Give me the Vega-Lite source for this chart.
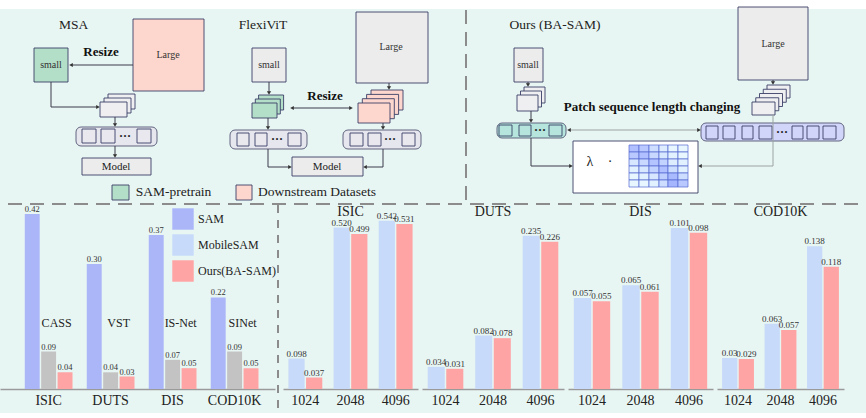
{
"$schema": "https://vega.github.io/schema/vega-lite/v6.json",
"background": "#e8f6f3",
"padding": 0,
"autosize": {"type": "pad"},
"spacing": 7,
"bounds": "flush",
"resolve": {"scale": {"color": "independent", "x": "independent", "y": "independent", "xOffset": "independent"}, "legend": {"color": "independent"}},
"config": {
  "view": {"stroke": null},
  "font": "Liberation Serif",
  "axisX": {"title": null, "ticks": false, "labelFont": "Liberation Serif", "labelFontSize": 14, "labelColor": "#222", "domainColor": "#9a9a9a", "domainWidth": 1.5, "labelPadding": 4, "labelAngle": 0},
  "title": {"font": "Liberation Serif", "fontSize": 14, "fontWeight": "normal", "color": "#222", "anchor": "middle", "offset": -7, "baseline": "top"}
},
"datasets": {
  "left": [
    {"dataset": "ISIC", "model": "SAM", "value": 0.42, "label": "0.42"},
    {"dataset": "ISIC", "model": "Specialist", "method": "CASS", "value": 0.09, "label": "0.09"},
    {"dataset": "ISIC", "model": "Ours(BA-SAM)", "value": 0.04, "label": "0.04"},
    {"dataset": "DUTS", "model": "SAM", "value": 0.30, "label": "0.30"},
    {"dataset": "DUTS", "model": "Specialist", "method": "VST", "value": 0.04, "label": "0.04"},
    {"dataset": "DUTS", "model": "Ours(BA-SAM)", "value": 0.03, "label": "0.03"},
    {"dataset": "DIS", "model": "SAM", "value": 0.37, "label": "0.37"},
    {"dataset": "DIS", "model": "Specialist", "method": "IS-Net", "value": 0.07, "label": "0.07"},
    {"dataset": "DIS", "model": "Ours(BA-SAM)", "value": 0.05, "label": "0.05"},
    {"dataset": "COD10K", "model": "SAM", "value": 0.22, "label": "0.22"},
    {"dataset": "COD10K", "model": "Specialist", "method": "SINet", "value": 0.09, "label": "0.09"},
    {"dataset": "COD10K", "model": "Ours(BA-SAM)", "value": 0.05, "label": "0.05"}
  ],
  "right": [
    {"dataset": "ISIC", "length": "1024", "model": "MobileSAM", "value": 0.098, "label": "0.098"},
    {"dataset": "ISIC", "length": "1024", "model": "Ours(BA-SAM)", "value": 0.037, "label": "0.037"},
    {"dataset": "ISIC", "length": "2048", "model": "MobileSAM", "value": 0.520, "label": "0.520"},
    {"dataset": "ISIC", "length": "2048", "model": "Ours(BA-SAM)", "value": 0.499, "label": "0.499"},
    {"dataset": "ISIC", "length": "4096", "model": "MobileSAM", "value": 0.542, "label": "0.542"},
    {"dataset": "ISIC", "length": "4096", "model": "Ours(BA-SAM)", "value": 0.531, "label": "0.531"},
    {"dataset": "DUTS", "length": "1024", "model": "MobileSAM", "value": 0.034, "label": "0.034"},
    {"dataset": "DUTS", "length": "1024", "model": "Ours(BA-SAM)", "value": 0.031, "label": "0.031"},
    {"dataset": "DUTS", "length": "2048", "model": "MobileSAM", "value": 0.082, "label": "0.082"},
    {"dataset": "DUTS", "length": "2048", "model": "Ours(BA-SAM)", "value": 0.078, "label": "0.078"},
    {"dataset": "DUTS", "length": "4096", "model": "MobileSAM", "value": 0.235, "label": "0.235"},
    {"dataset": "DUTS", "length": "4096", "model": "Ours(BA-SAM)", "value": 0.226, "label": "0.226"},
    {"dataset": "DIS", "length": "1024", "model": "MobileSAM", "value": 0.057, "label": "0.057"},
    {"dataset": "DIS", "length": "1024", "model": "Ours(BA-SAM)", "value": 0.055, "label": "0.055"},
    {"dataset": "DIS", "length": "2048", "model": "MobileSAM", "value": 0.065, "label": "0.065"},
    {"dataset": "DIS", "length": "2048", "model": "Ours(BA-SAM)", "value": 0.061, "label": "0.061"},
    {"dataset": "DIS", "length": "4096", "model": "MobileSAM", "value": 0.101, "label": "0.101"},
    {"dataset": "DIS", "length": "4096", "model": "Ours(BA-SAM)", "value": 0.098, "label": "0.098"},
    {"dataset": "COD10K", "length": "1024", "model": "MobileSAM", "value": 0.03, "label": "0.03"},
    {"dataset": "COD10K", "length": "1024", "model": "Ours(BA-SAM)", "value": 0.029, "label": "0.029"},
    {"dataset": "COD10K", "length": "2048", "model": "MobileSAM", "value": 0.063, "label": "0.063"},
    {"dataset": "COD10K", "length": "2048", "model": "Ours(BA-SAM)", "value": 0.057, "label": "0.057"},
    {"dataset": "COD10K", "length": "4096", "model": "MobileSAM", "value": 0.138, "label": "0.138"},
    {"dataset": "COD10K", "length": "4096", "model": "Ours(BA-SAM)", "value": 0.118, "label": "0.118"}
  ],
  "tokenbars": [
    {"x": 76, "x2": 157, "y": 127, "y2": 146, "role": "bar"},
    {"x": 230, "x2": 307, "y": 130, "y2": 149, "role": "bar"},
    {"x": 343, "x2": 421, "y": 130, "y2": 149, "role": "bar"},
    {"x": 497, "x2": 566, "y": 123, "y2": 138, "role": "teal"},
    {"x": 701, "x2": 844, "y": 123, "y2": 141, "role": "purple"}
  ],
  "boxes": [
    {"x": 34, "x2": 68, "y": 48, "y2": 82, "role": "green"},
    {"x": 133, "x2": 204, "y": 19, "y2": 91, "role": "pink"},
    {"x": 108, "x2": 135, "y": 94, "y2": 109, "role": "patch"},
    {"x": 104, "x2": 131, "y": 98, "y2": 113, "role": "patch"},
    {"x": 100, "x2": 127, "y": 102, "y2": 117, "role": "patch"},
    {"x": 82, "x2": 96, "y": 129, "y2": 143, "role": "sq"},
    {"x": 101, "x2": 115, "y": 129, "y2": 143, "role": "sq"},
    {"x": 137, "x2": 151, "y": 129, "y2": 143, "role": "sq"},
    {"x": 82, "x2": 151, "y": 158, "y2": 175, "role": "gray"},
    {"x": 252, "x2": 286, "y": 48, "y2": 82, "role": "gray"},
    {"x": 258.6, "x2": 283.6, "y": 95, "y2": 110, "role": "green"},
    {"x": 255.3, "x2": 280.3, "y": 99, "y2": 114, "role": "green"},
    {"x": 252, "x2": 277, "y": 103, "y2": 118, "role": "green"},
    {"x": 356, "x2": 428, "y": 12, "y2": 83, "role": "gray"},
    {"x": 371, "x2": 403, "y": 90, "y2": 110, "role": "pink"},
    {"x": 366.6, "x2": 398.6, "y": 94.4, "y2": 114.4, "role": "pink"},
    {"x": 362.3, "x2": 394.3, "y": 98.7, "y2": 118.7, "role": "pink"},
    {"x": 358, "x2": 390, "y": 103, "y2": 123, "role": "pink"},
    {"x": 237, "x2": 249, "y": 133, "y2": 146, "role": "sq"},
    {"x": 255, "x2": 267, "y": 133, "y2": 146, "role": "sq"},
    {"x": 288, "x2": 301, "y": 133, "y2": 146, "role": "sq"},
    {"x": 350, "x2": 363, "y": 133, "y2": 146, "role": "sq"},
    {"x": 368, "x2": 381, "y": 133, "y2": 146, "role": "sq"},
    {"x": 402, "x2": 415, "y": 133, "y2": 146, "role": "sq"},
    {"x": 292, "x2": 363, "y": 157, "y2": 176, "role": "gray"},
    {"x": 112, "x2": 129, "y": 185, "y2": 200, "role": "green"},
    {"x": 236, "x2": 252, "y": 185, "y2": 200, "role": "pink"},
    {"x": 514, "x2": 543, "y": 48, "y2": 82, "role": "gray"},
    {"x": 524, "x2": 545, "y": 87, "y2": 103, "role": "patch"},
    {"x": 520.5, "x2": 541.5, "y": 91, "y2": 107, "role": "patch"},
    {"x": 517, "x2": 538, "y": 95, "y2": 111, "role": "patch"},
    {"x": 738, "x2": 808, "y": 7, "y2": 80, "role": "gray"},
    {"x": 767, "x2": 790, "y": 85, "y2": 98, "role": "patch"},
    {"x": 763.25, "x2": 786.25, "y": 89.25, "y2": 102.25, "role": "patch"},
    {"x": 759.5, "x2": 782.5, "y": 93.5, "y2": 106.5, "role": "patch"},
    {"x": 755.75, "x2": 778.75, "y": 97.75, "y2": 110.75, "role": "patch"},
    {"x": 752, "x2": 775, "y": 102, "y2": 115, "role": "patch"},
    {"x": 499, "x2": 512, "y": 125, "y2": 136, "role": "teal"},
    {"x": 519, "x2": 531, "y": 125, "y2": 136, "role": "teal"},
    {"x": 549, "x2": 562, "y": 125, "y2": 136, "role": "teal"},
    {"x": 706, "x2": 718, "y": 126, "y2": 139, "role": "purple"},
    {"x": 723, "x2": 735, "y": 126, "y2": 139, "role": "purple"},
    {"x": 742, "x2": 753, "y": 126, "y2": 139, "role": "purple"},
    {"x": 759, "x2": 772, "y": 126, "y2": 139, "role": "purple"},
    {"x": 792, "x2": 803, "y": 126, "y2": 139, "role": "purple"},
    {"x": 807, "x2": 819, "y": 126, "y2": 139, "role": "purple"},
    {"x": 823, "x2": 836, "y": 126, "y2": 139, "role": "purple"},
    {"x": 573, "x2": 698, "y": 141, "y2": 193, "role": "white"}
  ],
  "cells": [
    {"x": 629, "x2": 639, "y": 145, "y2": 152, "v": 0.6},
    {"x": 639, "x2": 649, "y": 145, "y2": 152, "v": 0.5},
    {"x": 649, "x2": 659, "y": 145, "y2": 152, "v": 0.3},
    {"x": 659, "x2": 668, "y": 145, "y2": 152, "v": 0.15},
    {"x": 668, "x2": 678, "y": 145, "y2": 152, "v": 0.05},
    {"x": 678, "x2": 688, "y": 145, "y2": 152, "v": 0.05},
    {"x": 629, "x2": 639, "y": 152, "y2": 159, "v": 0.5},
    {"x": 639, "x2": 649, "y": 152, "y2": 159, "v": 0.6},
    {"x": 649, "x2": 659, "y": 152, "y2": 159, "v": 0.35},
    {"x": 659, "x2": 668, "y": 152, "y2": 159, "v": 0.2},
    {"x": 668, "x2": 678, "y": 152, "y2": 159, "v": 0.1},
    {"x": 678, "x2": 688, "y": 152, "y2": 159, "v": 0.05},
    {"x": 629, "x2": 639, "y": 159, "y2": 166, "v": 0.2},
    {"x": 639, "x2": 649, "y": 159, "y2": 166, "v": 0.35},
    {"x": 649, "x2": 659, "y": 159, "y2": 166, "v": 0.55},
    {"x": 659, "x2": 668, "y": 159, "y2": 166, "v": 0.4},
    {"x": 668, "x2": 678, "y": 159, "y2": 166, "v": 0.15},
    {"x": 678, "x2": 688, "y": 159, "y2": 166, "v": 0.1},
    {"x": 629, "x2": 639, "y": 166, "y2": 173, "v": 0.1},
    {"x": 639, "x2": 649, "y": 166, "y2": 173, "v": 0.2},
    {"x": 649, "x2": 659, "y": 166, "y2": 173, "v": 0.4},
    {"x": 659, "x2": 668, "y": 166, "y2": 173, "v": 0.6},
    {"x": 668, "x2": 678, "y": 166, "y2": 173, "v": 0.3},
    {"x": 678, "x2": 688, "y": 166, "y2": 173, "v": 0.1},
    {"x": 629, "x2": 639, "y": 173, "y2": 180, "v": 0.05},
    {"x": 639, "x2": 649, "y": 173, "y2": 180, "v": 0.1},
    {"x": 649, "x2": 659, "y": 173, "y2": 180, "v": 0.2},
    {"x": 659, "x2": 668, "y": 173, "y2": 180, "v": 0.45},
    {"x": 668, "x2": 678, "y": 173, "y2": 180, "v": 0.65},
    {"x": 678, "x2": 688, "y": 173, "y2": 180, "v": 0.3},
    {"x": 629, "x2": 639, "y": 180, "y2": 187, "v": 0.05},
    {"x": 639, "x2": 649, "y": 180, "y2": 187, "v": 0.05},
    {"x": 649, "x2": 659, "y": 180, "y2": 187, "v": 0.1},
    {"x": 659, "x2": 668, "y": 180, "y2": 187, "v": 0.3},
    {"x": 668, "x2": 678, "y": 180, "y2": 187, "v": 0.7},
    {"x": 678, "x2": 688, "y": 180, "y2": 187, "v": 0.5}
  ],
  "lines": [
    {"x": 133, "y": 65, "x2": 71, "y2": 65, "tone": "dark"},
    {"x": 51, "y": 82, "x2": 51, "y2": 107, "tone": "dark"},
    {"x": 51, "y": 107, "x2": 98, "y2": 107, "tone": "dark"},
    {"x": 115, "y": 117, "x2": 115, "y2": 125, "tone": "dark"},
    {"x": 115, "y": 146, "x2": 115, "y2": 156, "tone": "dark"},
    {"x": 269, "y": 82, "x2": 269, "y2": 93, "tone": "dark"},
    {"x": 389, "y": 83, "x2": 389, "y2": 88, "tone": "dark"},
    {"x": 292, "y": 108, "x2": 351, "y2": 108, "tone": "dark"},
    {"x": 268, "y": 118, "x2": 268, "y2": 128, "tone": "dark"},
    {"x": 383, "y": 123, "x2": 383, "y2": 128, "tone": "dark"},
    {"x": 268, "y": 149, "x2": 268, "y2": 167, "tone": "dark"},
    {"x": 268, "y": 167, "x2": 290, "y2": 167, "tone": "dark"},
    {"x": 383, "y": 149, "x2": 383, "y2": 167, "tone": "dark"},
    {"x": 383, "y": 167, "x2": 365, "y2": 167, "tone": "dark"},
    {"x": 528, "y": 82, "x2": 528, "y2": 85, "tone": "dark"},
    {"x": 531, "y": 111, "x2": 531, "y2": 121, "tone": "dark"},
    {"x": 773, "y": 80, "x2": 773, "y2": 83, "tone": "dark"},
    {"x": 569, "y": 130, "x2": 699, "y2": 130, "tone": "gray"},
    {"x": 531, "y": 138, "x2": 531, "y2": 166, "tone": "dark"},
    {"x": 531, "y": 166, "x2": 571, "y2": 166, "tone": "dark"},
    {"x": 773, "y": 115, "x2": 773, "y2": 166, "tone": "gray"},
    {"x": 773, "y": 166, "x2": 700, "y2": 166, "tone": "gray"}
  ],
  "heads": [
    {"x": 71, "y": 65, "dir": "left"},
    {"x": 98, "y": 107, "dir": "right"},
    {"x": 115, "y": 125, "dir": "down"},
    {"x": 115, "y": 156, "dir": "down"},
    {"x": 269, "y": 93, "dir": "down"},
    {"x": 389, "y": 88, "dir": "down"},
    {"x": 292, "y": 108, "dir": "left"},
    {"x": 351, "y": 108, "dir": "right"},
    {"x": 268, "y": 128, "dir": "down"},
    {"x": 383, "y": 128, "dir": "down"},
    {"x": 290, "y": 167, "dir": "right"},
    {"x": 365, "y": 167, "dir": "left"},
    {"x": 528, "y": 85, "dir": "down"},
    {"x": 531, "y": 121, "dir": "down"},
    {"x": 773, "y": 83, "dir": "down"},
    {"x": 569, "y": 130, "dir": "left"},
    {"x": 699, "y": 130, "dir": "right"},
    {"x": 571, "y": 166, "dir": "right"},
    {"x": 700, "y": 166, "dir": "left"}
  ],
  "dashes": [
    {"x": 8, "y": 204, "x2": 858, "y2": 204},
    {"x": 466, "y": 10, "x2": 466, "y2": 200}
  ],
  "texts": [
    {"x": 73.5, "y": 25, "text": "MSA", "kind": "head"},
    {"x": 263, "y": 25, "text": "FlexiViT", "kind": "head"},
    {"x": 555, "y": 25, "text": "Ours (BA-SAM)", "kind": "head"},
    {"x": 173.5, "y": 192, "text": "SAM-pretrain", "kind": "head"},
    {"x": 317, "y": 192, "text": "Downstream Datasets", "kind": "head"},
    {"x": 51, "y": 65, "text": "small", "kind": "small"},
    {"x": 269, "y": 65, "text": "small", "kind": "small"},
    {"x": 528, "y": 65, "text": "small", "kind": "small"},
    {"x": 168, "y": 55, "text": "Large", "kind": "small"},
    {"x": 391, "y": 47, "text": "Large", "kind": "small"},
    {"x": 773, "y": 44, "text": "Large", "kind": "small"},
    {"x": 101, "y": 52, "text": "Resize", "kind": "bold"},
    {"x": 325, "y": 96, "text": "Resize", "kind": "bold"},
    {"x": 652, "y": 107, "text": "Patch sequence length changing", "kind": "bold"},
    {"x": 116, "y": 167, "text": "Model", "kind": "model"},
    {"x": 327, "y": 167, "text": "Model", "kind": "model"},
    {"x": 125, "y": 136, "text": "···", "kind": "dots"},
    {"x": 277, "y": 139, "text": "···", "kind": "dots"},
    {"x": 390, "y": 139, "text": "···", "kind": "dots"},
    {"x": 540, "y": 130, "text": "···", "kind": "dots"},
    {"x": 782, "y": 132, "text": "···", "kind": "dots"},
    {"x": 590, "y": 162, "text": "λ", "kind": "lambda"},
    {"x": 610, "y": 162, "text": "·", "kind": "lambda"}
  ]
},
"vconcat": [
  {
    "width": 866,
    "height": 205,
    "layer": [
      {
        "data": {"values": [{"x": 0, "x2": 866, "y": 0, "y2": 9}]},
        "mark": {"type": "rect", "fill": "#ffffff"},
        "encoding": {
          "x": {"field": "x", "type": "quantitative", "scale": {"domain": [0, 866], "nice": false, "zero": false}, "axis": null},
          "x2": {"field": "x2"},
          "y": {"field": "y", "type": "quantitative", "scale": {"domain": [0, 205], "nice": false, "zero": false, "reverse": true}, "axis": null},
          "y2": {"field": "y2"}
        }
      },
      {
        "data": {"name": "tokenbars"},
        "mark": {"type": "rect", "cornerRadius": 5, "stroke": "#60657f", "strokeWidth": 1},
        "encoding": {
          "x": {"field": "x", "type": "quantitative", "scale": {"domain": [0, 866], "nice": false, "zero": false}, "axis": null},
          "x2": {"field": "x2"},
          "y": {"field": "y", "type": "quantitative", "scale": {"domain": [0, 205], "nice": false, "zero": false, "reverse": true}, "axis": null},
          "y2": {"field": "y2"},
          "fill": {"field": "role", "type": "nominal", "scale": {"domain": ["green", "pink", "gray", "patch", "sq", "white", "teal", "purple", "bar"], "range": ["#b3dfc8", "#fdd7cd", "#ececec", "#efeff1", "#e8e8ee", "#ffffff", "#b5e5dc", "#d2d5fa", "#e6e6ee"]}, "legend": null}
        }
      },
      {
        "data": {"name": "boxes"},
        "mark": {"type": "rect", "stroke": "#3a3e66", "strokeWidth": 0.9},
        "encoding": {
          "x": {"field": "x", "type": "quantitative", "scale": {"domain": [0, 866], "nice": false, "zero": false}, "axis": null},
          "x2": {"field": "x2"},
          "y": {"field": "y", "type": "quantitative", "scale": {"domain": [0, 205], "nice": false, "zero": false, "reverse": true}, "axis": null},
          "y2": {"field": "y2"},
          "fill": {"field": "role", "type": "nominal", "scale": {"domain": ["green", "pink", "gray", "patch", "sq", "white", "teal", "purple", "bar"], "range": ["#b3dfc8", "#fdd7cd", "#ececec", "#efeff1", "#e8e8ee", "#ffffff", "#b5e5dc", "#d2d5fa", "#e6e6ee"]}, "legend": null}
        }
      },
      {
        "data": {"name": "cells"},
        "mark": {"type": "rect", "stroke": "#5568d0", "strokeWidth": 0.7},
        "encoding": {
          "x": {"field": "x", "type": "quantitative", "scale": {"domain": [0, 866], "nice": false, "zero": false}, "axis": null},
          "x2": {"field": "x2"},
          "y": {"field": "y", "type": "quantitative", "scale": {"domain": [0, 205], "nice": false, "zero": false, "reverse": true}, "axis": null},
          "y2": {"field": "y2"},
          "color": {"field": "v", "type": "quantitative", "scale": {"domain": [0, 1], "range": ["#ffffff", "#8799ec"]}, "legend": null}
        }
      },
      {
        "data": {"name": "lines"},
        "mark": {"type": "rule", "strokeWidth": 1},
        "encoding": {
          "x": {"field": "x", "type": "quantitative", "scale": {"domain": [0, 866], "nice": false, "zero": false}, "axis": null},
          "x2": {"field": "x2"},
          "y": {"field": "y", "type": "quantitative", "scale": {"domain": [0, 205], "nice": false, "zero": false, "reverse": true}, "axis": null},
          "y2": {"field": "y2"},
          "stroke": {"field": "tone", "type": "nominal", "scale": {"domain": ["dark", "gray"], "range": ["#3a3a4a", "#9aa3a3"]}, "legend": null}
        }
      },
      {
        "data": {"name": "heads"},
        "mark": {"type": "point", "filled": true, "color": "#333333", "size": 18, "opacity": 1},
        "encoding": {
          "x": {"field": "x", "type": "quantitative", "scale": {"domain": [0, 866], "nice": false, "zero": false}, "axis": null},
          "y": {"field": "y", "type": "quantitative", "scale": {"domain": [0, 205], "nice": false, "zero": false, "reverse": true}, "axis": null},
          "shape": {"field": "dir", "type": "nominal", "scale": {"domain": ["left", "right", "down"], "range": ["triangle-left", "triangle-right", "triangle-down"]}, "legend": null}
        }
      },
      {
        "data": {"name": "dashes"},
        "mark": {"type": "rule", "strokeWidth": 2, "strokeDash": [14, 8], "color": "#8c8c8c"},
        "encoding": {
          "x": {"field": "x", "type": "quantitative", "scale": {"domain": [0, 866], "nice": false, "zero": false}, "axis": null},
          "x2": {"field": "x2"},
          "y": {"field": "y", "type": "quantitative", "scale": {"domain": [0, 205], "nice": false, "zero": false, "reverse": true}, "axis": null},
          "y2": {"field": "y2"}
        }
      },
      {
        "data": {"name": "texts"},
        "transform": [{"filter": "datum.kind === 'head'"}],
        "mark": {"type": "text", "font": "Liberation Serif", "fontSize": 13.5, "color": "#222222", "baseline": "middle", "align": "center"},
        "encoding": {
          "x": {"field": "x", "type": "quantitative", "scale": {"domain": [0, 866], "nice": false, "zero": false}, "axis": null},
          "y": {"field": "y", "type": "quantitative", "scale": {"domain": [0, 205], "nice": false, "zero": false, "reverse": true}, "axis": null},
          "text": {"field": "text"}
        }
      },
      {
        "data": {"name": "texts"},
        "transform": [{"filter": "datum.kind === 'small'"}],
        "mark": {"type": "text", "font": "Liberation Serif", "fontSize": 10, "color": "#333333", "baseline": "middle", "align": "center"},
        "encoding": {
          "x": {"field": "x", "type": "quantitative", "scale": {"domain": [0, 866], "nice": false, "zero": false}, "axis": null},
          "y": {"field": "y", "type": "quantitative", "scale": {"domain": [0, 205], "nice": false, "zero": false, "reverse": true}, "axis": null},
          "text": {"field": "text"}
        }
      },
      {
        "data": {"name": "texts"},
        "transform": [{"filter": "datum.kind === 'bold'"}],
        "mark": {"type": "text", "font": "Liberation Serif", "fontSize": 13, "fontWeight": "bold", "color": "#111111", "baseline": "middle", "align": "center"},
        "encoding": {
          "x": {"field": "x", "type": "quantitative", "scale": {"domain": [0, 866], "nice": false, "zero": false}, "axis": null},
          "y": {"field": "y", "type": "quantitative", "scale": {"domain": [0, 205], "nice": false, "zero": false, "reverse": true}, "axis": null},
          "text": {"field": "text"}
        }
      },
      {
        "data": {"name": "texts"},
        "transform": [{"filter": "datum.kind === 'model'"}],
        "mark": {"type": "text", "font": "Liberation Serif", "fontSize": 11, "color": "#222222", "baseline": "middle", "align": "center"},
        "encoding": {
          "x": {"field": "x", "type": "quantitative", "scale": {"domain": [0, 866], "nice": false, "zero": false}, "axis": null},
          "y": {"field": "y", "type": "quantitative", "scale": {"domain": [0, 205], "nice": false, "zero": false, "reverse": true}, "axis": null},
          "text": {"field": "text"}
        }
      },
      {
        "data": {"name": "texts"},
        "transform": [{"filter": "datum.kind === 'dots'"}],
        "mark": {"type": "text", "font": "Liberation Serif", "fontSize": 12, "fontWeight": "bold", "color": "#222222", "baseline": "middle", "align": "center"},
        "encoding": {
          "x": {"field": "x", "type": "quantitative", "scale": {"domain": [0, 866], "nice": false, "zero": false}, "axis": null},
          "y": {"field": "y", "type": "quantitative", "scale": {"domain": [0, 205], "nice": false, "zero": false, "reverse": true}, "axis": null},
          "text": {"field": "text"}
        }
      },
      {
        "data": {"name": "texts"},
        "transform": [{"filter": "datum.kind === 'lambda'"}],
        "mark": {"type": "text", "font": "Liberation Serif", "fontSize": 14, "color": "#222222", "baseline": "middle", "align": "center"},
        "encoding": {
          "x": {"field": "x", "type": "quantitative", "scale": {"domain": [0, 866], "nice": false, "zero": false}, "axis": null},
          "y": {"field": "y", "type": "quantitative", "scale": {"domain": [0, 205], "nice": false, "zero": false, "reverse": true}, "axis": null},
          "text": {"field": "text"}
        }
      }
    ]
  },
  {
    "spacing": 8,
    "bounds": "flush",
    "resolve": {"scale": {"color": "independent", "x": "independent", "y": "independent", "xOffset": "independent"}, "legend": {"color": "independent"}},
    "hconcat": [
      {
        "width": 275,
        "height": 177,
        "layer": [
          {
            "data": {"name": "left"},
            "encoding": {
              "x": {"field": "dataset", "type": "nominal", "sort": ["ISIC", "DUTS", "DIS", "COD10K"], "scale": {"paddingInner": 0.23, "paddingOuter": 0.333, "align": 0.6}},
              "xOffset": {"field": "model", "type": "nominal", "sort": ["SAM", "Specialist", "Ours(BA-SAM)"], "scale": {"paddingInner": 0.09}},
              "y": {"field": "value", "type": "quantitative", "scale": {"domain": [0, 0.425], "nice": false}, "axis": null}
            },
            "layer": [
              {
                "mark": {"type": "bar"},
                "encoding": {
                  "color": {"field": "model", "type": "nominal", "scale": {"domain": ["SAM", "MobileSAM", "Ours(BA-SAM)", "Specialist"], "range": ["#abb6f8", "#c7daf9", "#ffa4a4", "#c3c3c3"]},
                    "legend": {"values": ["SAM", "MobileSAM", "Ours(BA-SAM)"], "orient": "none", "legendX": 172, "legendY": -4, "title": null, "symbolType": "square", "symbolSize": 460, "symbolStrokeWidth": 0, "symbolOpacity": 1, "labelFont": "Liberation Serif", "labelFontSize": 12, "labelColor": "#222222", "rowPadding": 4, "labelOffset": 4, "padding": 0}}
                }
              },
              {
                "mark": {"type": "text", "baseline": "alphabetic", "dy": -2, "font": "Liberation Serif", "fontSize": 8.5, "color": "#333333"},
                "encoding": {"text": {"field": "label"}}
              },
              {
                "transform": [{"filter": "datum.model === 'Specialist'"}],
                "mark": {"type": "text", "baseline": "alphabetic", "dx": 8, "font": "Liberation Serif", "fontSize": 12, "color": "#222222"},
                "encoding": {"text": {"field": "method"}, "y": {"datum": 0.15}}
              }
            ]
          },
          {
            "data": {"values": [{}]},
            "mark": {"type": "rule", "strokeDash": [8, 7], "color": "#8c8c8c", "strokeWidth": 2},
            "encoding": {"x": {"value": 278}, "y": {"value": -7}, "y2": {"value": 200}}
          }
        ]
      },
      {
        "spacing": 4,
        "bounds": "flush",
        "resolve": {"scale": {"color": "independent", "x": "independent", "y": "independent", "xOffset": "independent"}},
        "hconcat": [
          {
            "width": 135, "height": 177,
            "title": {"text": "ISIC"},
            "data": {"name": "right"},
            "transform": [{"filter": "datum.dataset === 'ISIC'"}],
            "encoding": {
              "x": {"field": "length", "type": "nominal", "sort": ["1024", "2048", "4096"], "scale": {"paddingInner": 0.25, "paddingOuter": 0.12}},
              "xOffset": {"field": "model", "type": "nominal", "sort": ["MobileSAM", "Ours(BA-SAM)"], "scale": {"paddingInner": 0.08}},
              "y": {"field": "value", "type": "quantitative", "scale": {"domain": [0, 0.57], "nice": false}, "axis": null}
            },
            "layer": [
              {"mark": {"type": "bar"}, "encoding": {"color": {"field": "model", "type": "nominal", "scale": {"domain": ["SAM", "MobileSAM", "Ours(BA-SAM)", "Specialist"], "range": ["#abb6f8", "#c7daf9", "#ffa4a4", "#c3c3c3"]}, "legend": null}}},
              {"mark": {"type": "text", "baseline": "alphabetic", "dy": -2, "font": "Liberation Serif", "fontSize": 9, "color": "#333333"}, "encoding": {"text": {"field": "label"}}}
            ]
          },
          {
            "width": 142, "height": 177,
            "title": {"text": "DUTS"},
            "data": {"name": "right"},
            "transform": [{"filter": "datum.dataset === 'DUTS'"}],
            "encoding": {
              "x": {"field": "length", "type": "nominal", "sort": ["1024", "2048", "4096"], "scale": {"paddingInner": 0.25, "paddingOuter": 0.12}},
              "xOffset": {"field": "model", "type": "nominal", "sort": ["MobileSAM", "Ours(BA-SAM)"], "scale": {"paddingInner": 0.08}},
              "y": {"field": "value", "type": "quantitative", "scale": {"domain": [0, 0.2715], "nice": false}, "axis": null}
            },
            "layer": [
              {"mark": {"type": "bar"}, "encoding": {"color": {"field": "model", "type": "nominal", "scale": {"domain": ["SAM", "MobileSAM", "Ours(BA-SAM)", "Specialist"], "range": ["#abb6f8", "#c7daf9", "#ffa4a4", "#c3c3c3"]}, "legend": null}}},
              {"mark": {"type": "text", "baseline": "alphabetic", "dy": -2, "font": "Liberation Serif", "fontSize": 9, "color": "#333333"}, "encoding": {"text": {"field": "label"}}}
            ]
          },
          {
            "width": 145, "height": 177,
            "title": {"text": "DIS"},
            "data": {"name": "right"},
            "transform": [{"filter": "datum.dataset === 'DIS'"}],
            "encoding": {
              "x": {"field": "length", "type": "nominal", "sort": ["1024", "2048", "4096"], "scale": {"paddingInner": 0.25, "paddingOuter": 0.12}},
              "xOffset": {"field": "model", "type": "nominal", "sort": ["MobileSAM", "Ours(BA-SAM)"], "scale": {"paddingInner": 0.08}},
              "y": {"field": "value", "type": "quantitative", "scale": {"domain": [0, 0.111], "nice": false}, "axis": null}
            },
            "layer": [
              {"mark": {"type": "bar"}, "encoding": {"color": {"field": "model", "type": "nominal", "scale": {"domain": ["SAM", "MobileSAM", "Ours(BA-SAM)", "Specialist"], "range": ["#abb6f8", "#c7daf9", "#ffa4a4", "#c3c3c3"]}, "legend": null}}},
              {"mark": {"type": "text", "baseline": "alphabetic", "dy": -2, "font": "Liberation Serif", "fontSize": 9, "color": "#333333"}, "encoding": {"text": {"field": "label"}}}
            ]
          },
          {
            "width": 127, "height": 177,
            "title": {"text": "COD10K"},
            "data": {"name": "right"},
            "transform": [{"filter": "datum.dataset === 'COD10K'"}],
            "encoding": {
              "x": {"field": "length", "type": "nominal", "sort": ["1024", "2048", "4096"], "scale": {"paddingInner": 0.25, "paddingOuter": 0.12}},
              "xOffset": {"field": "model", "type": "nominal", "sort": ["MobileSAM", "Ours(BA-SAM)"], "scale": {"paddingInner": 0.08}},
              "y": {"field": "value", "type": "quantitative", "scale": {"domain": [0, 0.171], "nice": false}, "axis": null}
            },
            "layer": [
              {"mark": {"type": "bar"}, "encoding": {"color": {"field": "model", "type": "nominal", "scale": {"domain": ["SAM", "MobileSAM", "Ours(BA-SAM)", "Specialist"], "range": ["#abb6f8", "#c7daf9", "#ffa4a4", "#c3c3c3"]}, "legend": null}}},
              {"mark": {"type": "text", "baseline": "alphabetic", "dy": -2, "font": "Liberation Serif", "fontSize": 9, "color": "#333333"}, "encoding": {"text": {"field": "label"}}}
            ]
          }
        ]
      }
    ]
  }
]
}
